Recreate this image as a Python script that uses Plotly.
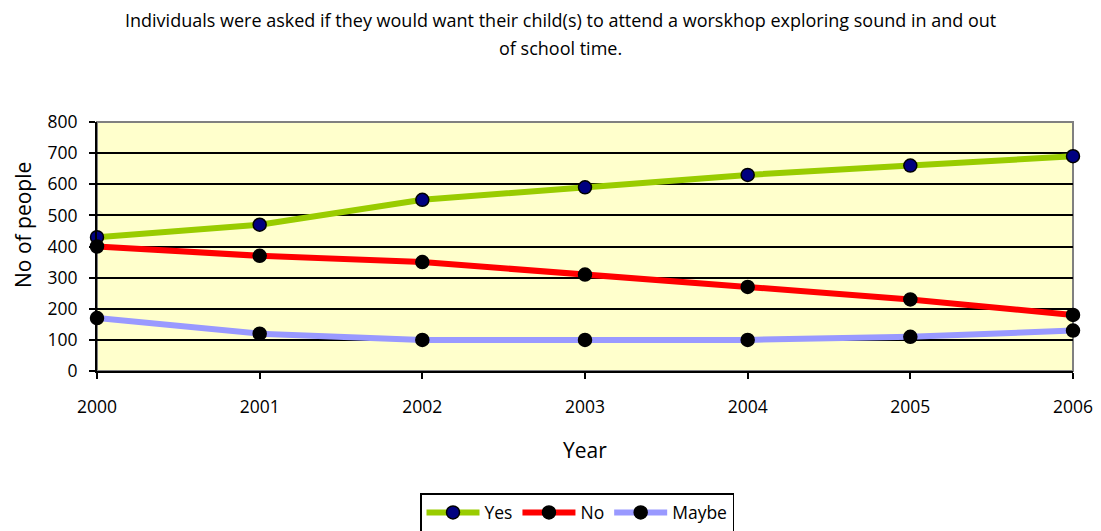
import plotly.graph_objects as go

years = [2000, 2001, 2002, 2003, 2004, 2005, 2006]
yes_vals = [430, 470, 550, 590, 630, 660, 690]
no_vals = [400, 370, 350, 310, 270, 230, 180]
maybe_vals = [170, 120, 100, 100, 100, 110, 130]

title_lines = [
    "Individuals were asked if they would want their child(s) to attend a worskhop exploring sound in and out",
    "of school time.",
]

FONT = "Open Sans"

fig = go.Figure()
series = [
    ("Yes", yes_vals, "#99CC00", "#000080"),
    ("No", no_vals, "#FF0000", "#000000"),
    ("Maybe", maybe_vals, "#9999FF", "#000000"),
]
for name, vals, lc, mc in series:
    fig.add_trace(go.Scatter(
        x=years, y=vals, name=name, mode="lines+markers",
        line=dict(color=lc, width=6),
        marker=dict(color=mc, size=13, line=dict(color="#000000", width=1.5)),
        cliponaxis=False,
    ))

fig.add_shape(type="rect", xref="paper", yref="paper", x0=0, y0=0, x1=1, y1=1,
              line=dict(color="#808080", width=2), layer="below")

# title lines
fig.add_annotation(text=title_lines[0], xref="paper", yref="paper",
                   x=(560 - 97) / 976, y=(371 - 20) / 249, xanchor="center", yanchor="middle",
                   showarrow=False, font=dict(family=FONT, size=18, color="#000000"))
fig.add_annotation(text=title_lines[1], xref="paper", yref="paper",
                   x=(560 - 97) / 976, y=(371 - 48) / 249, xanchor="center", yanchor="middle",
                   showarrow=False, font=dict(family=FONT, size=18, color="#000000"))
# axis titles
fig.add_annotation(text="Year", xref="paper", yref="paper",
                   x=(585 - 97) / 976, y=-(450 - 371) / 249, xanchor="center", yanchor="middle",
                   showarrow=False, font=dict(family=FONT, size=21, color="#000000"))
fig.add_annotation(text="No of people", xref="paper", yref="paper", textangle=-90,
                   x=-(97 - 23) / 976, y=(371 - 225) / 249, xanchor="center", yanchor="middle",
                   showarrow=False, font=dict(family=FONT, size=21, color="#000000"))

fig.update_layout(
    width=1101, height=531,
    margin=dict(l=97, r=28, t=122, b=160),
    paper_bgcolor="white", plot_bgcolor="#FFFFCC",
    font=dict(family=FONT, color="#000000", size=17),
    showlegend=True,
    xaxis=dict(
        range=[2000, 2006], tickmode="array", tickvals=years,
        ticktext=[str(y) for y in years],
        showgrid=False, zeroline=False, automargin=False,
        showline=True, linecolor="#000000", linewidth=2,
        ticks="outside", ticklen=6, tickcolor="#000000", tickwidth=2,
        tickfont=dict(size=17.5), ticklabelstandoff=13,
    ),
    yaxis=dict(
        range=[0, 800], dtick=100, automargin=False,
        showgrid=True, gridcolor="#000000", gridwidth=2,
        zeroline=False,
        showline=True, linecolor="#000000", linewidth=2,
        ticks="outside", ticklen=6, tickcolor="#000000", tickwidth=2,
        tickfont=dict(size=17.5), ticklabelstandoff=8,
    ),
    legend=dict(
        orientation="h", x=420 / 1101, xanchor="left", xref="container",
        y=(531 - 493) / 531, yanchor="top", yref="container",
        bordercolor="#000000", borderwidth=1.5,
        font=dict(size=17.5, family=FONT),
        itemwidth=53,
    ),
)

fig.write_html("out.html")
